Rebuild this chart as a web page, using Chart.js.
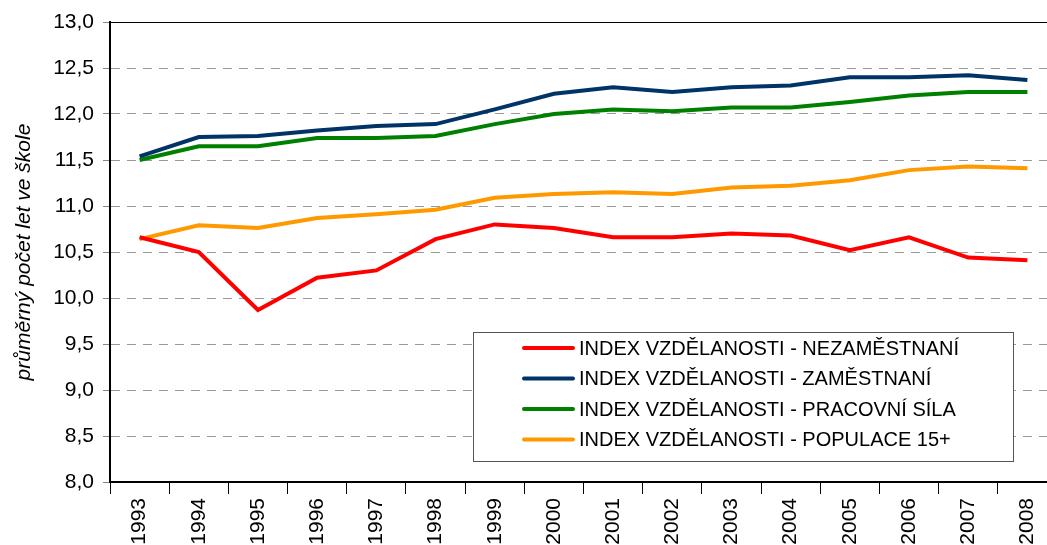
<!DOCTYPE html>
<html>
<head>
<meta charset="utf-8">
<script src="https://cdn.jsdelivr.net/npm/chart.js@4"></script>
<style>
  html, body { margin: 0; padding: 0; background: #fff; overflow: hidden; }
  #wrap { width: 1047px; height: 545px; overflow: hidden; }
</style>
</head>
<body>
<div id="wrap"><canvas id="graf" width="1062" height="545"></canvas></div>
<script>
const roky = ['1993','1994','1995','1996','1997','1998','1999','2000','2001','2002','2003','2004','2005','2006','2007','2008'];
const nezamestnani = [10.66, 10.50, 9.87, 10.22, 10.30, 10.64, 10.80, 10.76, 10.66, 10.66, 10.70, 10.68, 10.52, 10.66, 10.44, 10.41];
const zamestnani = [11.54, 11.75, 11.76, 11.82, 11.87, 11.89, 12.05, 12.22, 12.29, 12.24, 12.29, 12.31, 12.40, 12.40, 12.42, 12.37];
const pracovniSila = [11.50, 11.65, 11.65, 11.74, 11.74, 11.76, 11.89, 12.00, 12.05, 12.03, 12.07, 12.07, 12.13, 12.20, 12.24, 12.24];
const populace15 = [10.64, 10.79, 10.76, 10.87, 10.91, 10.96, 11.09, 11.13, 11.15, 11.13, 11.20, 11.22, 11.28, 11.39, 11.43, 11.41];

const pismo = '"Liberation Sans", Arial, sans-serif';

// legenda uvnitr grafu, jako v Excelu
const legendaUvnitr = {
  id: 'legendaUvnitr',
  afterDraw(chart) {
    const c = chart.ctx;
    c.save();
    c.fillStyle = '#fff';
    c.fillRect(473, 332, 540, 129);
    c.strokeStyle = '#555';
    c.lineWidth = 1;
    c.strokeRect(473.5, 332.5, 540, 129);
    c.font = '20px ' + pismo;
    c.textBaseline = 'middle';
    chart.data.datasets.forEach((ds, i) => {
      const y = 348 + i * 30.5;
      c.strokeStyle = ds.borderColor;
      c.lineWidth = 4;
      c.lineCap = 'round';
      c.beginPath();
      c.moveTo(524, y);
      c.lineTo(573, y);
      c.stroke();
      c.fillStyle = '#000';
      c.fillText(ds.label, 579, y + 1);
    });
    c.restore();
  }
};

const ctx = document.getElementById('graf').getContext('2d');
const graf = new Chart(ctx, {
  type: 'line',
  data: {
    labels: roky,
    datasets: [
      { label: 'INDEX VZDĚLANOSTI - NEZAMĚSTNANÍ', data: nezamestnani, borderColor: '#ff0000' },
      { label: 'INDEX VZDĚLANOSTI - ZAMĚSTNANÍ', data: zamestnani, borderColor: '#003366' },
      { label: 'INDEX VZDĚLANOSTI - PRACOVNÍ SÍLA', data: pracovniSila, borderColor: '#008000' },
      { label: 'INDEX VZDĚLANOSTI - POPULACE 15+', data: populace15, borderColor: '#ff9900' }
    ]
  },
  options: {
    responsive: false,
    animation: false,
    events: [],
    layout: { padding: { top: 22, right: 5, left: 0, bottom: 0 } },
    elements: {
      line: { borderWidth: 4, tension: 0, fill: false },
      point: { radius: 0 }
    },
    plugins: {
      legend: { display: false },
      tooltip: { enabled: false }
    },
    scales: {
      x: {
        offset: true,
        grid: { offset: true, drawOnChartArea: false, tickLength: 12, tickColor: '#000', tickWidth: 1 },
        border: { color: '#000', width: 2 },
        ticks: { maxRotation: 90, minRotation: 90, color: '#000', padding: 4, font: { family: pismo, size: 21 } },
        afterFit(s) { s.height = 63; }
      },
      y: {
        min: 8,
        max: 13,
        grid: {
          color: c => c.tick && c.tick.value === 13 ? '#000' : '#999',
          tickColor: '#888',
          tickLength: 7,
          lineWidth: 1
        },
        border: {
          color: '#000',
          width: 2,
          dash: c => c.tick && c.tick.value === 13 ? [] : [9, 7]
        },
        ticks: {
          stepSize: 0.5,
          color: '#000',
          padding: 9,
          font: { family: pismo, size: 21 },
          callback: v => v.toFixed(1).replace('.', ',')
        },
        title: {
          display: true,
          text: 'průměrný počet let ve škole',
          color: '#000',
          padding: { top: 12, bottom: 0 },
          font: { family: pismo, size: 21, style: 'italic' }
        },
        afterFit(s) { s.width = 110; }
      }
    }
  },
  plugins: [legendaUvnitr]
});
</script>
</body>
</html>
